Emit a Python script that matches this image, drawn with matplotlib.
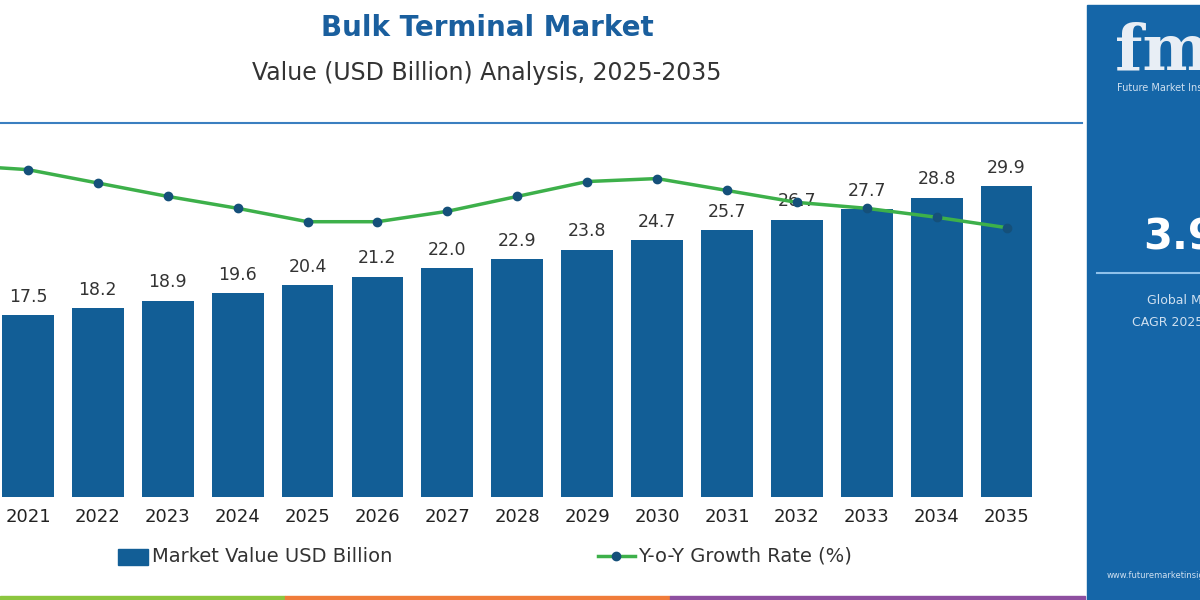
import matplotlib.pyplot as plt
import numpy as np
from matplotlib.patches import Rectangle
from matplotlib.lines import Line2D

years = ["2021", "2022", "2023", "2024", "2025", "2026", "2027", "2028",
         "2029", "2030", "2031", "2032", "2033", "2034", "2035"]
market_value = [17.5, 18.2, 18.9, 19.6, 20.4, 21.2, 22.0, 22.9,
                23.8, 24.7, 25.7, 26.7, 27.7, 28.8, 29.9]
# growth rate starts one year before the first visible bar (2020)
growth_years_idx = list(range(-1, 15))
growth_rate = [4.23, 4.20, 4.11, 4.02, 3.94, 3.85, 3.85, 3.92, 4.02,
               4.12, 4.14, 4.06, 3.98, 3.94, 3.88, 3.81]

BLUE = '#125e96'
GREEN = '#3db04a'
fig = plt.figure(figsize=(12, 6), dpi=100)
W, H = 1200, 600

def fx(px): return px / W
def fy(py): return 1 - py / H

ax = fig.add_axes([0, fy(497), fx(1045), (497 - 125) / H])
x = np.arange(len(years))
ax.bar(x, market_value, width=0.74, color=BLUE)
for xi, v in zip(x, market_value):
    ax.text(xi, v + 0.9, f"{v:.1f}", ha='center', va='bottom', fontsize=12.5, color='#333333')
ax.set_xlim(-0.4, 14.55)
ax.set_ylim(0, 35.8)
ax.set_xticks(x)
ax.set_xticklabels(years, fontsize=13, color='#222222')
ax.tick_params(axis='x', length=0, pad=8)
ax.set_yticks([])
for s in ax.spines.values():
    s.set_visible(False)

ax2 = ax.twinx()
ax2.plot(growth_years_idx, growth_rate, color=GREEN, lw=2.5, marker='o',
         markersize=6, markerfacecolor='#15507a', markeredgecolor='#15507a', clip_on=True)
ax2.set_ylim(2.0, 4.5)
ax2.set_yticks([])
for s in ax2.spines.values():
    s.set_visible(False)

# titles
fig.text(fx(487), fy(28), "Bulk Terminal Market", ha='center', va='center',
         fontsize=20, fontweight='bold', color='#1a5f9e')
fig.text(fx(487), fy(73), "Value (USD Billion) Analysis, 2025-2035", ha='center', va='center',
         fontsize=17, color='#333333')
fig.add_artist(Line2D([0, fx(1082)], [fy(123), fy(123)], color='#3a7fc0', lw=1.5))

# legend
fig.add_artist(Rectangle((fx(118), fy(565)), fx(30), 16 / H, color=BLUE))
fig.text(fx(152), fy(556), "Market Value USD Billion", va='center', fontsize=14, color='#333333')
fig.add_artist(Line2D([fx(598), fx(635)], [fy(556), fy(556)], color=GREEN, lw=2.5,
                      marker='o', markevery=[0.5], markersize=0))
fig.add_artist(Line2D([fx(616)], [fy(556)], marker='o', color='#15507a', markersize=6))
fig.text(fx(638), fy(556), "Y-o-Y Growth Rate (%)", va='center', fontsize=14, color='#333333')

# bottom colour strip
for x0, x1, c in [(0, 285, '#8cc63f'), (285, 670, '#f07c3a'), (670, 1085, '#8e4fa0')]:
    fig.add_artist(Rectangle((fx(x0), 0), fx(x1 - x0), 4 / H, color=c))

# right panel
fig.add_artist(Rectangle((fx(1087), 0), fx(113), fy(5), color='#1566a8'))
fig.text(fx(1115), fy(52), "fmi", fontsize=46, fontweight='bold', color='#e8eef5',
         va='center', family='DejaVu Serif')
fig.text(fx(1117), fy(88), "Future Market Insights", fontsize=7, color='#cfe0f0', va='center')
fig.text(fx(1143), fy(237), "3.9%", fontsize=30, fontweight='bold', color='white', va='center')
fig.add_artist(Line2D([fx(1097), 1], [fy(273), fy(273)], color='#8fc1ea', lw=1.5))
fig.text(fx(1147), fy(300), "Global Market", fontsize=9, color='#cfe0f0', va='center')
fig.text(fx(1132), fy(322), "CAGR 2025-2035", fontsize=9, color='#cfe0f0', va='center')
fig.text(fx(1107), fy(575), "www.futuremarketinsights.com", fontsize=6, color='#cfe0f0', va='center')

fig.savefig('out.png', dpi=100)
